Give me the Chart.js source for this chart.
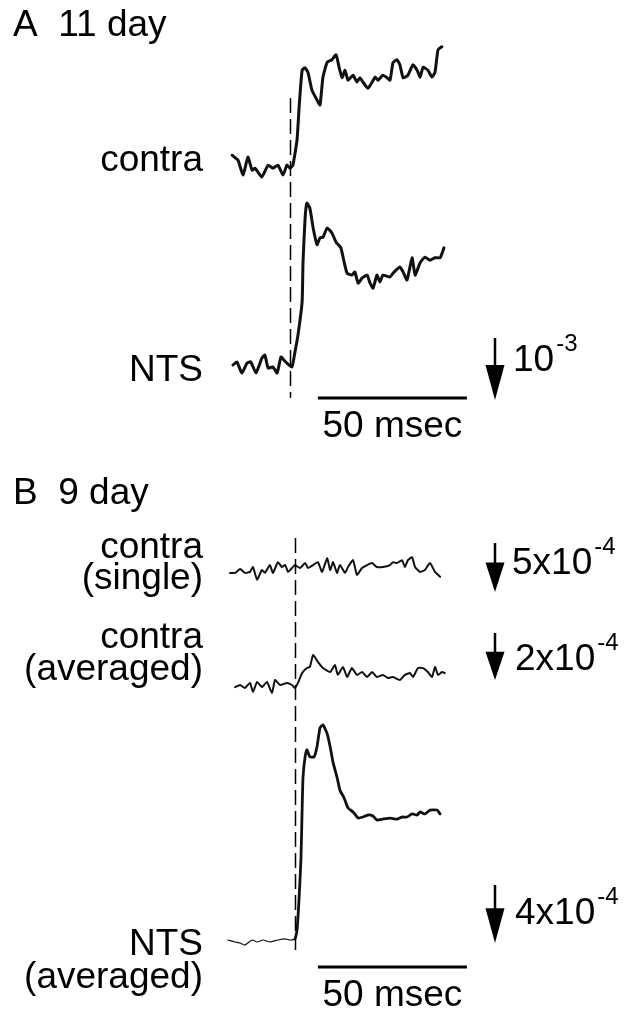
<!DOCTYPE html>
<html>
<head>
<meta charset="utf-8">
<script src="https://cdn.jsdelivr.net/npm/chart.js@4"></script>
<style>
  body { margin: 0; background: #fff; }
  #wrap { width: 633px; height: 1012px; }
</style>
</head>
<body>
<div id="wrap"><canvas id="traces" width="633" height="1012"></canvas></div>
<script>
// time in msec from start of sweep, signal in units of 1e-4 (dF/F)
const stimA = 20.3;
const stimB = 21.8;

const tAContra = [0.7,1.7,2.7,4.4,6.0,7.4,8.4,10.7,12.8,14.4,16.1,17.8,19.1,20.1,21.1,22.5,23.2,24.2,25.2,26.2,27.5,29.2,30.2,31.2,32.6,34.2,35.6,36.6,37.6,38.6,39.6,41.3,42.6,43.6,44.6,46.3,47.7,48.7,49.7,51.3,52.7,53.7,54.7,56.0,57.0,58.1,59.7,61.4,62.8,63.8,64.8,66.4,67.8,68.8,69.8,71.1];
const vAContra = [1.9,1.5,1.1,-1.3,1.6,-0.5,-0.2,-1.6,0.3,-0.2,0.3,-1.3,0.3,-0.2,0.3,4.4,9.7,15.6,16.0,15.2,12.4,10.8,10.0,14.5,16.9,17.3,18.1,16.1,14.4,15.6,14.0,14.8,13.7,14.4,13.7,12.7,13.7,14.5,14.0,14.8,14.4,14.0,16.8,17.3,16.5,14.4,14.8,16.5,15.6,14.5,16.1,15.6,14.5,15.3,18.9,19.4];

const tANts = [1.0,2.3,4.0,5.7,7.0,8.7,10.7,11.7,12.8,14.4,15.8,17.1,18.1,19.1,20.8,21.8,22.8,24.2,24.5,25.2,25.8,26.8,27.9,29.2,30.2,31.2,32.6,34.2,35.6,37.2,38.3,39.3,40.9,41.9,43.0,44.3,46.0,47.0,48.0,49.3,50.3,51.3,53.7,54.7,57.0,58.1,59.4,61.1,62.1,63.8,65.4,67.1,68.8,70.5,71.8];
const vANts = [0,0.5,-1.3,0.3,0.5,-1.3,1.1,1.6,-0.5,-0.3,-1.3,1.3,0.8,0.3,-0.3,2.1,4.8,10.2,16.6,23.7,26.1,25.3,22.1,19.4,20.5,20.6,22.1,21.3,19.8,18.9,16.6,14.8,14.5,15.0,13.2,14.0,14.5,13.2,12.4,14.5,13.4,14.5,14.2,14.8,15.8,15.0,13.7,17.3,14.5,16.5,17.4,16.9,17.3,17.3,18.9];

const tBSingle = [0,1.7,3.4,5.0,6.7,7.7,9.1,10.7,11.7,13.4,14.4,16.1,17.4,18.5,19.5,20.8,21.8,23.5,25.2,26.2,27.9,29.5,30.9,32.6,33.6,34.6,35.9,36.9,38.6,39.6,41.3,42.6,44.3,46.0,47.7,49.3,51.3,53.7,54.7,56.0,57.7,58.7,59.7,61.1,62.1,63.8,65.4,67.1,68.8,70.5];
const vBSingle = [-0.5,-0.5,-0.1,-0.5,-0.4,0.1,-1.2,-0.2,-0.5,0.3,-0.5,0.6,0.1,0.3,-0.4,0,0.3,0,0.5,0,0.3,0.6,-0.4,1.0,-0.2,0.6,-0.5,0.3,-0.5,0.1,0.8,-0.7,0,0.3,0.5,0.1,0.1,0.3,0.6,0.5,0.8,0.1,0.8,1.1,0.1,-0.4,-0.2,0.5,-0.4,-0.9];

const tBAvg = [1.7,3.4,5.0,6.7,7.7,9.1,10.7,12.4,14.1,15.1,16.8,19.1,20.8,21.8,22.8,24.2,25.8,26.8,27.9,29.5,31.2,33.6,35.2,36.2,37.9,39.3,40.9,42.6,44.3,46.0,47.7,49.3,51.3,53.0,54.7,57.0,58.7,60.4,61.4,63.1,64.8,66.4,67.8,68.8,69.8,71.1,72.1];
const vBAvg = [-0.09,0,-0.13,0.09,-0.30,0.13,-0.09,0.13,-0.34,0.21,0,0.09,0,-0.13,0.09,0.51,0.72,0.77,1.28,0.98,0.72,0.55,0.85,0.43,0.77,0.34,0.72,0.43,0.55,0.34,0.55,0.34,0.43,0.30,0.34,0.21,0.43,0.51,0.34,0.72,0.72,0.55,0.34,0.77,0.43,0.55,0.51];

const tBNts = [-0.7,1.7,3.4,5.0,7.4,9.1,11.1,13.4,16.1,18.5,20.1,21.8,22.5,23.2,23.8,24.2,24.5,25.2,25.8,26.8,28.2,29.2,30.2,31.2,32.6,33.6,34.6,35.9,36.9,38.3,39.6,41.3,43.0,44.6,46.3,48.0,49.3,51.3,53.7,56.0,57.7,59.4,61.1,62.8,63.8,65.4,67.1,69.5,70.5];
const vBNts = [0.07,-0.07,-0.14,-0.28,0.07,-0.07,0.07,-0.07,0.07,0.14,0.07,0.14,0.76,3.03,5.59,9.03,11.3,12.7,13.2,12.7,12.7,13.4,14.7,14.9,14.3,13.4,12.3,11.3,10.4,9.86,9.17,8.90,8.48,8.55,8.69,8.62,8.34,8.41,8.48,8.41,8.55,8.55,8.76,8.69,8.90,8.76,9.03,9.03,8.76];

// layout: where each trace sits and how many px one unit takes
const W = 633, H = 1012;
const sweepLeft = 230, pxPerMs = 2.98;
const traceBase = { aContra: 167, aNts: 365, bSingle: 568, bAvg: 685, bNts: 941 };
const traceGain = { aContra: 6.2, aNts: 6.2, bSingle: 9.8, bAvg: 23.5, bNts: 14.5 };

const FONT = "'Liberation Sans', Arial, Helvetica, sans-serif";
const BIG = '37px ' + FONT;

function pts(t, v) { return t.map((x, i) => ({ x: x, y: v[i] })); }

function yAxis(key) {
  return {
    type: 'linear', display: false,
    min: -(H - traceBase[key]) / traceGain[key],
    max: traceBase[key] / traceGain[key]
  };
}

function trace(key, t, v, width) {
  return {
    data: pts(t, v), yAxisID: key,
    borderColor: '#111', borderWidth: width,
    pointRadius: 0, tension: 0.15,
    borderJoinStyle: 'round', borderCapStyle: 'round'
  };
}

const nts = trace('bNts', tBNts, vBNts, 2.8);
nts.segment = { borderWidth: ctx => ctx.p0.parsed.x < stimB ? 1.2 : 2.8 };

const extras = {
  id: 'extras',
  afterDraw(chart) {
    const c = chart.ctx, xs = chart.scales.x;
    c.save();
    c.fillStyle = '#000';
    c.strokeStyle = '#000';

    // stimulus markers
    c.setLineDash([15, 6]);
    c.lineWidth = 1.5;
    [[stimA, 98, 398], [stimB, 538, 950]].forEach(d => {
      const x = Math.round(xs.getPixelForValue(d[0])) + 0.5;
      c.beginPath(); c.moveTo(x, d[1]); c.lineTo(x, d[2]); c.stroke();
    });
    c.setLineDash([]);

    // 50 msec bars
    const barStart = 29.5;
    c.lineWidth = 3;
    [[398, 437], [967, 1006]].forEach(b => {
      const x1 = xs.getPixelForValue(barStart), x2 = xs.getPixelForValue(barStart + 50);
      c.beginPath(); c.moveTo(x1, b[0]); c.lineTo(x2, b[0]); c.stroke();
      c.font = BIG; c.textAlign = 'center';
      c.fillText('50 msec', (x1 + x2) / 2, b[1]);
    });

    // amplitude arrows: length = scale value on that trace's axis
    const arrows = [
      { axis: 'aNts', val: 10, tip: 400, txt: '10', sup: '-3', tx: 513, ty: 371 },
      { axis: 'bSingle', val: 5, tip: 592, txt: '5x10', sup: '-4', tx: 512, ty: 574 },
      { axis: 'bAvg', val: 2, tip: 680, txt: '2x10', sup: '-4', tx: 515, ty: 670 },
      { axis: 'bNts', val: 4, tip: 943, txt: '4x10', sup: '-4', tx: 515, ty: 924 }
    ];
    const ax = 495;
    arrows.forEach(a => {
      const s = chart.scales[a.axis];
      const len = Math.abs(s.getPixelForValue(0) - s.getPixelForValue(a.val));
      const head = Math.min(35, len * 0.6);
      c.lineWidth = 2.5;
      c.beginPath(); c.moveTo(ax, a.tip - len); c.lineTo(ax, a.tip - head + 2); c.stroke();
      c.beginPath(); c.moveTo(ax - 9.5, a.tip - head); c.lineTo(ax + 9.5, a.tip - head); c.lineTo(ax, a.tip); c.closePath(); c.fill();
      c.textAlign = 'left';
      c.font = BIG;
      c.fillText(a.txt, a.tx, a.ty);
      const w = c.measureText(a.txt).width;
      c.font = '24px ' + FONT;
      c.fillText(a.sup, a.tx + w + 2, a.ty - 20);
    });

    // panel titles and trace labels
    c.font = BIG;
    c.textAlign = 'left';
    c.fillText('A  11 day', 13, 36);
    c.fillText('B  9 day', 13, 504);
    c.textAlign = 'right';
    [['contra', 171], ['NTS', 381], ['contra', 558], ['(single)', 589],
     ['contra', 648], ['(averaged)', 680], ['NTS', 955], ['(averaged)', 988]]
      .forEach(l => c.fillText(l[0], 203, l[1]));
    c.restore();
  }
};

new Chart(document.getElementById('traces'), {
  type: 'line',
  data: {
    datasets: [
      trace('aContra', tAContra, vAContra, 3),
      trace('aNts', tANts, vANts, 3),
      trace('bSingle', tBSingle, vBSingle, 2.0),
      trace('bAvg', tBAvg, vBAvg, 2.0),
      nts
    ]
  },
  options: {
    responsive: false, animation: false,
    layout: { padding: 0 },
    plugins: { legend: { display: false }, tooltip: { enabled: false } },
    scales: {
      x: { type: 'linear', display: false, min: -sweepLeft / pxPerMs, max: (W - sweepLeft) / pxPerMs },
      aContra: yAxis('aContra'),
      aNts: yAxis('aNts'),
      bSingle: yAxis('bSingle'),
      bAvg: yAxis('bAvg'),
      bNts: yAxis('bNts')
    }
  },
  plugins: [extras]
});
</script>
</body>
</html>
